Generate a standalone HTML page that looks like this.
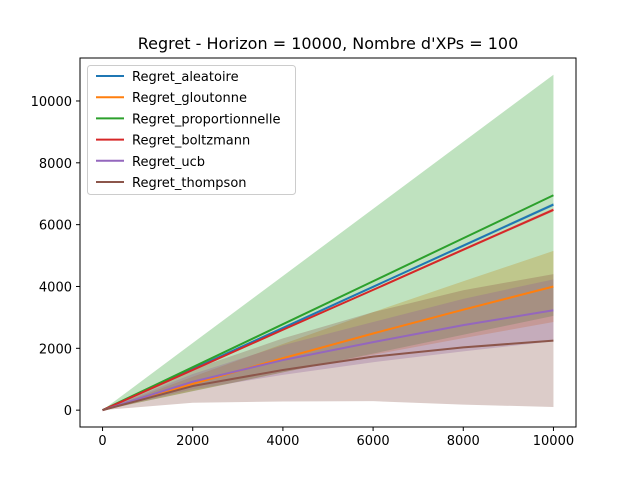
<!DOCTYPE html>
<html><head><meta charset="utf-8"><style>
body{margin:0;background:#fff;}
svg text{font-family:"DejaVu Sans","Liberation Sans",sans-serif;}
</style></head><body>
<svg id="chart" width="640" height="480">
<text x="328" y="49" text-anchor="middle" font-size="16">Regret - Horizon = 10000, Nombre d'XPs = 100</text>
<g id="fills"></g><g id="lines"></g><g id="axes"></g><g id="legend"></g>
</svg>
<script>
const xs = [0, 2000, 4000, 6000, 8000, 10000];
const names = ["Regret_aleatoire","Regret_gloutonne","Regret_proportionnelle","Regret_boltzmann","Regret_ucb","Regret_thompson"];
const colors = ["#1f77b4","#ff7f0e","#2ca02c","#d62728","#9467bd","#8c564b"];
const meanAleatoire = [0, 1330, 2660, 3990, 5320, 6650];
const meanGloutonne = [0, 850, 1680, 2480, 3250, 4000];
const meanProportionnelle = [0, 1390, 2780, 4170, 5560, 6950];
const meanBoltzmann = [0, 1300, 2600, 3890, 5190, 6480];
const meanUcb = [0, 920, 1620, 2200, 2750, 3230];
const meanThompson = [0, 780, 1300, 1730, 2030, 2250];
const stdAleatoire = [0, 10, 20, 30, 40, 50];
const stdGloutonne = [0, 230, 460, 690, 920, 1150];
const stdProportionnelle = [0, 780, 1560, 2340, 3120, 3900];
const stdBoltzmann = [0, 10, 20, 30, 40, 50];
const stdUcb = [0, 250, 480, 650, 850, 1000];
const stdThompson = [0, 540, 1020, 1440, 1850, 2150];
const xTicks = [0, 2000, 4000, 6000, 8000, 10000];
const yTicks = [0, 2000, 4000, 6000, 8000, 10000];
const means=[meanAleatoire,meanGloutonne,meanProportionnelle,meanBoltzmann,meanUcb,meanThompson];
const stds=[stdAleatoire,stdGloutonne,stdProportionnelle,stdBoltzmann,stdUcb,stdThompson];
const L=80,R=576,T=58,B=427;
const xMin=-500,xMax=10500,yMin=-545,yMax=11390;
const X=v=>L+(v-xMin)/(xMax-xMin)*(R-L);
const Y=v=>B-(v-yMin)/(yMax-yMin)*(B-T);
const NS="http://www.w3.org/2000/svg";
function mk(t,a,p){const e=document.createElementNS(NS,t);for(const k in a)e.setAttribute(k,a[k]);p.appendChild(e);return e;}
const fills=document.getElementById('fills'),lines=document.getElementById('lines'),axes=document.getElementById('axes'),leg=document.getElementById('legend');
means.forEach((m,i)=>{
  const up=xs.map((x,j)=>X(x)+','+Y(m[j]+stds[i][j]));
  const lo=xs.map((x,j)=>X(x)+','+Y(m[j]-stds[i][j])).reverse();
  const f=mk('polygon',{points:up.concat(lo).join(' '),fill:colors[i],'fill-opacity':0.3},fills);
  
  
});
means.forEach((m,i)=>{
  const l=mk('polyline',{points:xs.map((x,j)=>X(x)+','+Y(m[j])).join(' '),fill:'none',stroke:colors[i],'stroke-width':2,'stroke-linejoin':'round'},lines);
  
  
});
const fr=mk('rect',{x:L,y:T,width:R-L,height:B-T,fill:'none',stroke:'#000','stroke-width':1},axes);


xTicks.forEach(t=>{
  mk('line',{x1:X(t),x2:X(t),y1:B,y2:B+4,stroke:'#000'},axes);
  const tx=mk('text',{x:X(t),y:B+18,'text-anchor':'middle','font-size':13},axes);tx.textContent=t;
  
  
});
yTicks.forEach(t=>{
  mk('line',{x1:L-4,x2:L,y1:Y(t),y2:Y(t),stroke:'#000'},axes);
  const tx=mk('text',{x:L-8,y:Y(t)+5,'text-anchor':'end','font-size':13},axes);tx.textContent=t;
  
  
});
const lb=mk('rect',{x:87.5,y:65.5,width:208,height:129,rx:3,fill:'#fff','fill-opacity':0.8,stroke:'#ccc'},leg);


names.forEach((n,i)=>{
  const y=76+i*21.2;
  mk('line',{x1:96,x2:124,y1:y,y2:y,stroke:colors[i],'stroke-width':2},leg);
  const t=mk('text',{x:132,y:y+5,'font-size':13},leg);t.textContent=n;
  
  
});
</script>
</body></html>
